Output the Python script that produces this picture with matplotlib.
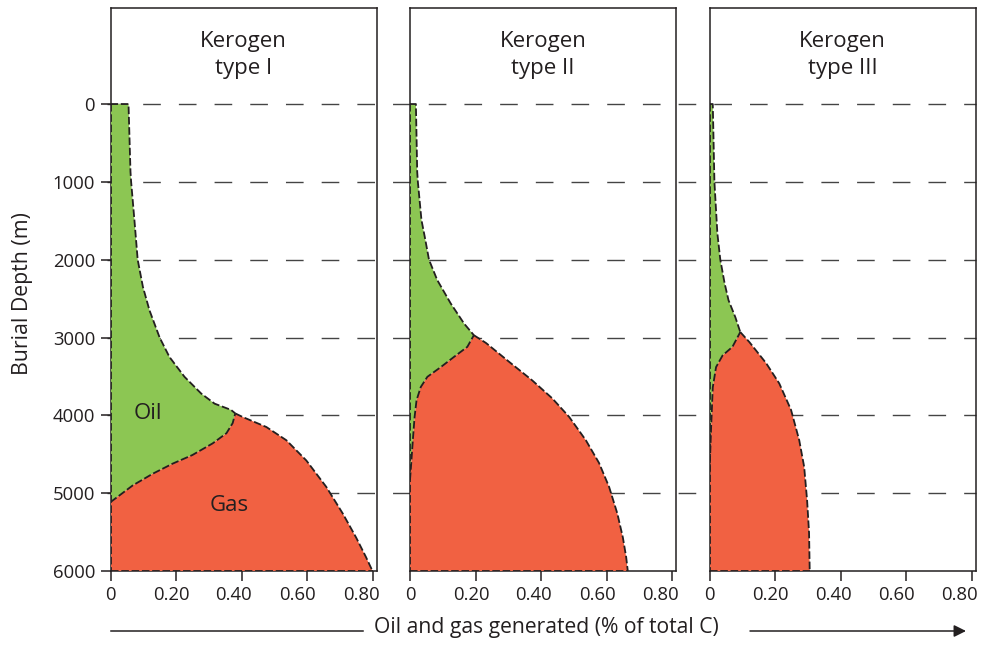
import matplotlib.pyplot as plt
from matplotlib.lines import Line2D
from matplotlib.transforms import blended_transform_factory, ScaledTranslation

plt.rcParams['font.family'] = ['Open Sans', 'DejaVu Sans']

# Oil and gas generated (% of total C) vs burial depth (m), per kerogen type
kerogen_types = ['I', 'II', 'III']

# Type I
oil1_x = [0.055, 0.061, 0.063, 0.073, 0.083, 0.099, 0.119, 0.150, 0.180, 0.226, 0.277, 0.318, 0.368, 0.381]
oil1_d = [0, 870, 1000, 1490, 2000, 2350, 2650, 3000, 3250, 3505, 3720, 3850, 3930, 3975]
gastop1_x = [0, 0.068, 0.129, 0.190, 0.250, 0.312, 0.354, 0.373, 0.381]
gastop1_d = [5115, 4900, 4750, 4620, 4510, 4360, 4230, 4100, 3975]
gasedge1_x = [0.381, 0.403, 0.476, 0.537, 0.598, 0.659, 0.709, 0.750, 0.780, 0.800]
gasedge1_d = [3975, 4020, 4150, 4320, 4580, 4920, 5260, 5570, 5820, 6000]

# Type II
oil2_x = [0.018, 0.022, 0.024, 0.035, 0.045, 0.058, 0.083, 0.124, 0.165, 0.195]
oil2_d = [0, 870, 1000, 1490, 1705, 2000, 2260, 2560, 2820, 2970]
gastop2_x = [0, 0.003, 0.009, 0.014, 0.020, 0.033, 0.053, 0.094, 0.134, 0.175, 0.195]
gastop2_d = [4830, 4660, 4300, 4020, 3805, 3635, 3505, 3380, 3250, 3120, 2970]
gasedge2_x = [0.195, 0.232, 0.302, 0.373, 0.434, 0.486, 0.537, 0.577, 0.608, 0.633, 0.650, 0.660, 0.665]
gasedge2_d = [2970, 3070, 3310, 3550, 3780, 4020, 4320, 4610, 4920, 5260, 5570, 5820, 6000]

# Type III
oil3_x = [0.010, 0.015, 0.024, 0.033, 0.046, 0.058, 0.079, 0.094]
oil3_d = [0, 1000, 1660, 2000, 2300, 2520, 2740, 2930]
gastop3_x = [0, 0.005, 0.010, 0.020, 0.040, 0.070, 0.094]
gastop3_d = [4750, 4150, 3640, 3380, 3230, 3120, 2930]
gasedge3_x = [0.094, 0.122, 0.173, 0.213, 0.249, 0.274, 0.289, 0.298, 0.304, 0.306]
gasedge3_d = [2930, 3060, 3330, 3590, 3930, 4320, 4660, 5090, 5510, 6000]

curves = [
    (oil1_x, oil1_d, gastop1_x, gastop1_d, gasedge1_x, gasedge1_d),
    (oil2_x, oil2_d, gastop2_x, gastop2_d, gasedge2_x, gasedge2_d),
    (oil3_x, oil3_d, gastop3_x, gastop3_d, gasedge3_x, gasedge3_d),
]

depth_ticks = [0, 1000, 2000, 3000, 4000, 5000, 6000]
x_ticks = [0, 0.2, 0.4, 0.6, 0.8]
x_ticklabels = ['0', '0.20', '0.40', '0.60', '0.80']
label_nudge_px = [0, -4.5, -7.5, -9.5, -11.5]  # labels sit slightly left of their ticks

GREEN = '#8cc653'
RED = '#f16142'
INK = '#231f20'

W, H = 986, 646
fig = plt.figure(figsize=(W / 100, H / 100), dpi=100)


def px_box(left, top, right, bottom):
    return [left / W, 1 - bottom / H, (right - left) / W, (bottom - top) / H]


lefts = [110.5, 410, 709.5]
axes = [fig.add_axes(px_box(l, 8, l + 266, 571)) for l in lefts]

# dashed depth guides running across all three panels
trans = blended_transform_factory(fig.transFigure, axes[0].transData)
for d in depth_ticks[:-1]:
    fig.add_artist(Line2D([107 / W, 976 / W], [d, d], transform=trans,
                          color='#444444', lw=1.0, dashes=(12.7, 13), zorder=-1))

outline = dict(color=INK, lw=1.3, dashes=(4.2, 1.5), zorder=2.8)

for i, (ax, kt, c) in enumerate(zip(axes, kerogen_types, curves)):
    ox, od, tx, td, ex, ed = c
    ax.set_facecolor('none')
    ax.set_xlim(0, 266 / 327.5)
    ax.set_ylim(6000, -1234)

    # oil wedge: top, outer oil edge, then back up along the gas top
    gx = [0] + ox + tx[::-1][1:] + [0]
    gy = [0] + od + td[::-1][1:] + [0]
    ax.fill(gx, gy, color=GREEN, lw=0, zorder=2.6)
    # gas body
    rx = tx + ex[1:] + [0]
    ry = td + ed[1:] + [6000]
    ax.fill(rx, ry, color=RED, lw=0, zorder=2.6)

    ax.plot([0] + ox, [0] + od, **outline)
    ax.plot(tx, td, **outline)
    ax.plot(ex, ed, **outline)
    ax.plot([0, 0], [0, 6000], **outline)
    ax.plot([0, ex[-1]], [6000, 6000], **outline)

    for s in ax.spines.values():
        s.set_color(INK)
        s.set_linewidth(1.1)

    ax.set_xticks(x_ticks)
    ax.set_xticklabels(x_ticklabels)
    if i == 0:
        ax.set_yticks(depth_ticks)
        ax.set_yticklabels([str(d) for d in depth_ticks])
    else:
        ax.set_yticks([])
    ax.tick_params(direction='out', length=7, width=1.1, color=INK,
                   labelsize=13.3, labelcolor=INK, pad=4)
    for lab, dx in zip(ax.get_xticklabels(), label_nudge_px):
        lab.set_transform(lab.get_transform() +
                          ScaledTranslation(dx / 100, 0, fig.dpi_scale_trans))

    tt = blended_transform_factory(ax.transAxes, ax.transData)
    ax.text(0.5, -630, 'Kerogen\ntype ' + kt, transform=tt, ha='center', va='center',
            fontsize=16, color=INK, linespacing=1.4)

axes[0].text(0.113, 3972, 'Oil', ha='center', va='center', fontsize=16, color=INK, zorder=4)
axes[0].text(0.363, 5154, 'Gas', ha='center', va='center', fontsize=16, color=INK, zorder=4)

fig.text(23 / W, 1 - 294 / H, 'Burial Depth (m)', rotation=90, ha='center', va='center',
         fontsize=15.3, color=INK)

# axis title with arrow underneath the panels
yb = 1 - 631 / H
fig.add_artist(Line2D([111 / W, 363 / W], [yb, yb], color=INK, lw=1.1))
fig.text(546 / W, 1 - 627 / H, 'Oil and gas generated (% of total C)', ha='center', va='center',
         fontsize=15.2, color=INK)
axes[0].annotate('', xy=(966 / W, yb), xytext=(750 / W, yb), xycoords='figure fraction',
                 textcoords='figure fraction',
                 arrowprops=dict(arrowstyle='-|>', color=INK, lw=1.1, mutation_scale=18,
                                 shrinkA=0, shrinkB=0))

fig.savefig('out.png', dpi=100)
